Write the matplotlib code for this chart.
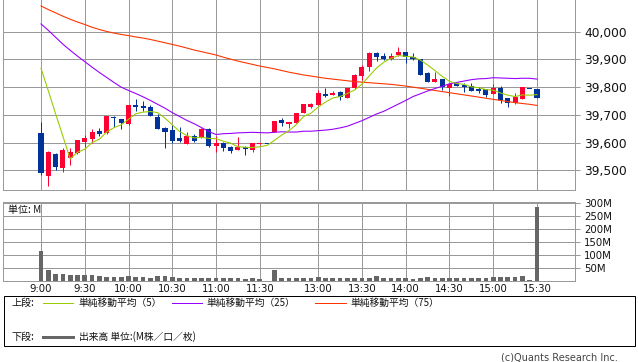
import matplotlib
matplotlib.use("Agg")
import matplotlib.pyplot as plt
from matplotlib.patches import Rectangle
from matplotlib.lines import Line2D
import numpy as np

# ---------------- data (5-minute bars, slot index 0..68) ----------------
opens = [39633, 39481, 39559, 39509, 39545, 39561, 39601, 39613, 39643, 39633,
         39694, 39685, 39667, 39736, 39732, 39727, 39693, 39654, 39645, 39615,
         39595, 39625, 39619, 39649, 39589, 39600, 39585, 39573, 39585, 39573,
         39594, 39595, 39639, 39681, 39666, 39672, 39706, 39729, 39736, 39775,
         39772, 39784, 39762, 39796, 39840, 39874, 39924, 39912, 39900, 39915,
         39927, 39910, 39900, 39850, 39820, 39829, 39797, 39814, 39808, 39804,
         39793, 39792, 39775, 39796, 39760, 39744, 39757, 39793, 39793]
highs = [39675, 39570, 39561, 39582, 39582, 39611, 39627, 39649, 39651, 39697,
         39697, 39686, 39737, 39757, 39751, 39736, 39702, 39656, 39663, 39655,
         39637, 39630, 39651, 39651, 39625, 39601, 39586, 39621, 39588, 39598,
         39596, 39595, 39679, 39690, 39676, 39707, 39740, 39742, 39790, 39796,
         39786, 39785, 39797, 39847, 39880, 39925, 39925, 39922, 39922, 39946,
         39928, 39922, 39901, 39856, 39853, 39830, 39812, 39815, 39816, 39816,
         39802, 39793, 39811, 39804, 39761, 39778, 39800, 39793, 39794]
lows = [39483, 39444, 39501, 39495, 39519, 39559, 39585, 39600, 39624, 39630,
        39657, 39648, 39665, 39714, 39715, 39696, 39648, 39582, 39600, 39603,
        39594, 39603, 39618, 39585, 39567, 39571, 39564, 39572, 39555, 39567,
        39593, 39594, 39638, 39660, 39654, 39671, 39705, 39726, 39735, 39763,
        39771, 39754, 39761, 39795, 39826, 39859, 39895, 39899, 39899, 39914,
        39888, 39899, 39843, 39819, 39819, 39790, 39768, 39803, 39784, 39786,
        39780, 39763, 39774, 39744, 39730, 39739, 39756, 39792, 39761]
closes = [39489, 39567, 39513, 39573, 39565, 39609, 39618, 39637, 39631, 39696,
          39687, 39670, 39736, 39730, 39726, 39697, 39649, 39639, 39607, 39607,
          39625, 39607, 39649, 39589, 39600, 39582, 39571, 39585, 39576, 39597,
          39595, 39594, 39678, 39670, 39675, 39706, 39739, 39739, 39780, 39768,
          39780, 39763, 39796, 39844, 39874, 39924, 39908, 39900, 39912, 39927,
          39908, 39900, 39844, 39820, 39829, 39802, 39811, 39805, 39802, 39787,
          39787, 39772, 39796, 39754, 39744, 39766, 39799, 39792, 39762]

ma5 = [39868, 39787, 39704, 39623, 39541, 39565, 39576, 39600, 39612, 39638,
       39654, 39664, 39684, 39704, 39710, 39712, 39708, 39688, 39664, 39640,
       39625, 39617, 39619, 39615, 39614, 39605, 39598, 39585, 39583, 39582,
       39585, 39590, 39608, 39627, 39643, 39665, 39694, 39706, 39728, 39746,
       39761, 39766, 39777, 39790, 39811, 39840, 39869, 39890, 39904, 39914,
       39911, 39909, 39898, 39880, 39860, 39839, 39821, 39813, 39810, 39801,
       39798, 39791, 39789, 39779, 39771, 39766, 39772, 39771, 39773]
ma25 = [40028, 40005, 39980, 39955, 39933, 39912, 39892, 39872, 39853, 39835,
        39817, 39800, 39788, 39777, 39765, 39752, 39738, 39724, 39708, 39694,
        39680, 39668, 39654, 39640, 39629, 39632, 39633, 39635, 39636, 39637,
        39636, 39635, 39637, 39639, 39638, 39638, 39641, 39641, 39643, 39645,
        39648, 39653, 39659, 39669, 39679, 39691, 39703, 39713, 39726, 39739,
        39752, 39766, 39776, 39786, 39795, 39803, 39812, 39817, 39822, 39827,
        39830, 39831, 39834, 39833, 39832, 39831, 39832, 39832, 39829]
ma75 = [40093, 40080, 40068, 40056, 40045, 40035, 40026, 40016, 40008, 40001,
        39995, 39990, 39986, 39981, 39977, 39972, 39966, 39960, 39954, 39948,
        39941, 39934, 39928, 39922, 39916, 39908, 39901, 39894, 39888, 39882,
        39876, 39871, 39866, 39860, 39854, 39849, 39844, 39840, 39836, 39832,
        39829, 39826, 39823, 39820, 39818, 39816, 39814, 39812, 39810, 39807,
        39804, 39800, 39796, 39792, 39788, 39784, 39780, 39776, 39772, 39768,
        39764, 39760, 39756, 39752, 39748, 39744, 39741, 39738, 39734]

volume_m = [115, 40, 27, 27, 21, 23, 20, 20, 16, 12,
            12, 13, 16, 12, 12, 9, 16, 16, 12, 8,
            8, 8, 8, 8, 8, 8, 8, 8, 4, 8,
            4, 0, 40, 8, 8, 8, 8, 8, 12, 8,
            8, 8, 8, 8, 8, 8, 17, 8, 8, 8,
            8, 5, 8, 13, 8, 8, 8, 8, 8, 8,
            8, 8, 12, 12, 12, 12, 17, 1, 285]

time_tick_slots = [0, 6, 12, 18, 24, 30, 38, 44, 50, 56, 62, 68]
time_tick_labels = ["9:00", "9:30", "10:00", "10:30", "11:00", "11:30",
                    "13:00", "13:30", "14:00", "14:30", "15:00", "15:30"]
price_ticks = [39500, 39600, 39700, 39800, 39900, 40000]
volume_ticks = [50, 100, 150, 200, 250, 300]

legend_upper = ["単純移動平均（5）", "単純移動平均（25）", "単純移動平均（75）"]
legend_lower = "出来高 単位:(M株／口／枚)"

# ---------------- style ----------------
UP = "#ff0033"
DOWN = "#003399"
C5, C25, C75 = "#99cc00", "#9900ff", "#ff3300"
GRID = "#999999"
CJK = ["Noto Sans CJK JP", "DejaVu Sans"]
plt.rcParams["font.family"] = ["DejaVu Sans", "Noto Sans CJK JP"]

W, H = 638, 362
PX = 72 / 100  # points per pixel

def fx(p):
    return p / W

def fy(p):
    return 1 - p / H

fig = plt.figure(figsize=(W / 100, H / 100), dpi=100)
fig.patch.set_facecolor("white")

xlim = (-5.21, 73.21)
ax = fig.add_axes([fx(3), fy(190), fx(572), 190 / H])
axv = fig.add_axes([fx(3), fy(280.5), fx(572), (280.5 - 202) / H])

# ---------------- price panel ----------------
o = np.array(opens, float)
h = np.array(highs, float)
l = np.array(lows, float)
c = np.array(closes, float)
x = np.arange(len(o))
cols = [UP if cc > oo else DOWN for oo, cc in zip(o, c)]
ylo, yhi = 39428.9, 40114.4
one_px = (yhi - ylo) / 190
ax.vlines(x, l, h, colors=cols, lw=1 * PX, zorder=3)
body_bottom = np.minimum(o, c)
body_h = np.maximum(np.abs(c - o), one_px)
ax.bar(x, body_h, bottom=body_bottom, width=0.7, color=cols, lw=0, zorder=4)

ax.plot(x, ma75, color=C75, lw=1.1 * PX, zorder=5)
ax.plot(x, ma25, color=C25, lw=1.1 * PX, zorder=5)
ax.plot(x, ma5, color=C5, lw=1.1 * PX, zorder=6)

ax.set_xlim(*xlim)
ax.set_ylim(ylo, yhi)
ax.set_xticks(time_tick_slots)
ax.set_xticklabels([])
ax.set_yticks(price_ticks)
ax.set_yticklabels([f"{v:,}" for v in price_ticks])
ax.yaxis.tick_right()
ax.tick_params(axis="x", length=0)
ax.tick_params(axis="y", length=5 * PX, color=GRID, width=1 * PX, pad=4 * PX,
               labelsize=8.8, labelcolor="#111111")
ax.grid(True, color=GRID, lw=1 * PX)
ax.set_axisbelow(True)
for name, sp in ax.spines.items():
    sp.set_color(GRID)
    sp.set_linewidth(1 * PX)
ax.spines["top"].set_visible(False)

# ---------------- volume panel ----------------
axv.bar(x, volume_m, width=0.64, color="#666666", lw=0, zorder=3)
axv.set_xlim(*xlim)
axv.set_ylim(0, 305.5)
axv.set_xticks(time_tick_slots)
axv.set_xticklabels(time_tick_labels)
axv.set_yticks(volume_ticks)
axv.set_yticklabels([f"{v}M" for v in volume_ticks])
axv.yaxis.tick_right()
axv.tick_params(axis="x", length=0, pad=2.5, labelsize=7.3, labelcolor="#111111")
axv.tick_params(axis="y", length=5 * PX, color=GRID, width=1 * PX, pad=4 * PX,
                labelsize=7.3, labelcolor="#111111")
axv.grid(True, color=GRID, lw=1 * PX)
axv.set_axisbelow(True)
for name, sp in axv.spines.items():
    sp.set_color(GRID)
    sp.set_linewidth(1 * PX)

fig.text(fx(8), fy(209.5), "単位: M", ha="left", va="center", fontsize=7.2,
         family=CJK, color="#111111")

# ---------------- legend box ----------------
fig.patches.append(Rectangle((fx(3.5), fy(346)), fx(631), (346 - 295.5) / H,
                             transform=fig.transFigure, fill=False,
                             ec="#000000", lw=1 * PX))
row1, row2 = 303, 336.5
fig.text(fx(12), fy(row1), "上段:", ha="left", va="center", fontsize=7.2,
         family=CJK, color="#111111")
fig.text(fx(12), fy(row2), "下段:", ha="left", va="center", fontsize=7.2,
         family=CJK, color="#111111")
for (x0, x1, tx), col, lab in zip([(43, 73, 78), (172, 202, 206.5), (315, 346, 350)],
                                  [C5, C25, C75], legend_upper):
    fig.lines.append(Line2D([fx(x0), fx(x1)], [fy(row1), fy(row1)],
                            transform=fig.transFigure, color=col, lw=1 * PX))
    fig.text(fx(tx), fy(row1), lab, ha="left", va="center", fontsize=7.0,
             family=CJK, color="#111111")
fig.lines.append(Line2D([fx(43), fx(73)], [fy(row2), fy(row2)],
                        transform=fig.transFigure, color="#666666", lw=3 * PX))
fig.text(fx(79), fy(row2), legend_lower, ha="left", va="center", fontsize=7.0,
         family=CJK, color="#111111")

fig.text(fx(618), fy(357.5), "(c)Quants Research Inc.", ha="right", va="center",
         fontsize=7, color="#444444")

fig.savefig("out.png", dpi=100, facecolor="white")
